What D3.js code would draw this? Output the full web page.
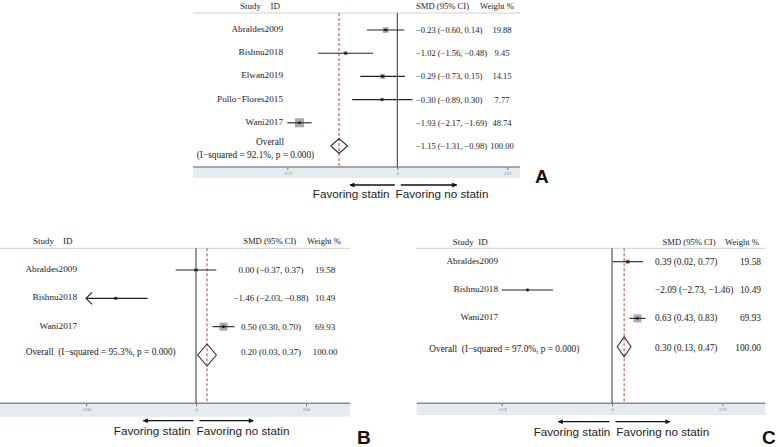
<!DOCTYPE html>
<html><head><meta charset="utf-8">
<script src="https://cdn.jsdelivr.net/npm/d3@7"></script>
<style>body{margin:0;background:#fff}svg{display:block}</style>
</head><body>
<script>
// ---------- DATA ----------
// Panel A
const studiesA = ["Abraldes2009", "Bishnu2018", "Elwan2019", "Pollo\u2212Flores2015", "Wani2017"];
const smdA     = [-0.23, -1.02, -0.29, -0.30, -1.93];
const lowerA   = [-0.60, -1.56, -0.73, -0.89, -2.17];
const upperA   = [ 0.14, -0.48,  0.15,  0.30, -1.69];
const weightA  = [19.88, 9.45, 14.15, 7.77, 48.74];
const overallA = [-1.15, -1.31, -0.98];
const i2A = "92.1%";
const pA = "0.000";
const ticksA = [-2.17, 0, 2.17];

// Panel B
const studiesB = ["Abraldes2009", "Bishnu2018", "Wani2017"];
const smdB     = [0.00, -1.46, 0.50];
const lowerB   = [-0.37, -2.03, 0.30];
const upperB   = [0.37, -0.88, 0.70];
const weightB  = [19.58, 10.49, 69.93];
const overallB = [0.20, 0.03, 0.37];
const i2B = "95.3%";
const pB = "0.000";
const ticksB = [-2.00, 0, 2.00];

// Panel C
const studiesC = ["Abraldes2009", "Bishnu2018", "Wani2017"];
const smdC     = [0.39, -2.09, 0.63];
const lowerC   = [0.02, -2.73, 0.43];
const upperC   = [0.77, -1.46, 0.83];
const weightC  = [19.58, 10.49, 69.93];
const overallC = [0.30, 0.13, 0.47];
const i2C = "97.0%";
const pC = "0.000";
const ticksC = [-2.73, 0, 2.73];

const leftLabel = "Favoring statin";
const rightLabel = "Favoring no statin";

// ---------- DRAWING ----------
const svg = d3.select("body").append("svg").attr("width", 778).attr("height", 447);
const defs = svg.append("defs");
defs.append("marker").attr("id", "ah").attr("viewBox", "0 0 10 10").attr("refX", 9).attr("refY", 5)
  .attr("markerWidth", 7).attr("markerHeight", 5).attr("markerUnits", "userSpaceOnUse").attr("orient", "auto")
  .append("path").attr("d", "M0,0L10,5L0,10Z").attr("fill", "#111");

const SERIF = "'Liberation Serif','Times New Roman',serif";
const SANS = "'Liberation Sans',Arial,sans-serif";
const fmt = v => (v < 0 ? "\u2212" : "") + Math.abs(v).toFixed(2);
const effText = (m, l, u) => `${fmt(m)} (${fmt(l)}, ${fmt(u)})`;

function drawPanel(d, L) {
  const g = svg.append("g");
  const x = d3.scaleLinear().domain(L.domain).range(L.xRange);
  const keys = d.studies.concat(["__overall"]);
  const y = d3.scalePoint().domain(keys).range(L.yRange);
  const box = d3.scaleSqrt().domain([0, d3.max(d.weights)]).range([0, L.maxBox]);
  const yo = y("__overall");
  const rows = d.studies.map((s, i) => ({s, m: d.smd[i], l: d.lower[i], u: d.upper[i], w: d.weights[i]}));

  // axis band
  g.append("rect").attr("x", L.frame[0]).attr("y", L.axisY).attr("width", L.frame[1] - L.frame[0])
    .attr("height", L.bandH).attr("fill", "#e4ecef");
  // header line
  g.append("line").attr("x1", L.frame[0]).attr("x2", L.frame[1]).attr("y1", L.headerY).attr("y2", L.headerY)
    .attr("stroke", "#d0d0d0").attr("stroke-width", 1);
  // axis
  const ax = g.append("g").attr("transform", `translate(0,${L.axisY})`)
    .call(d3.axisBottom(x).tickValues(d.ticks).tickSize(3).tickPadding(2.5)
      .tickFormat(t => t === 0 ? "0" : fmt(t)));
  ax.select(".domain").remove();
  ax.selectAll(".tick line").attr("stroke", "#555").attr("stroke-width", 0.8);
  ax.selectAll(".tick text").attr("font-size", 3.6).attr("fill", "#777").attr("font-family", SANS);
  g.append("line").attr("x1", L.frame[0]).attr("x2", L.frame[1]).attr("y1", L.axisY).attr("y2", L.axisY)
    .attr("stroke", "#8c8c8c").attr("stroke-width", 1.6);
  // zero line
  g.append("line").attr("x1", x(0)).attr("x2", x(0)).attr("y1", L.headerY).attr("y2", L.axisY)
    .attr("stroke", "#333").attr("stroke-width", 1);
  // overall dashed line
  g.append("line").attr("x1", x(d.overall[0])).attr("x2", x(d.overall[0])).attr("y1", L.headerY).attr("y2", L.axisY)
    .attr("stroke", "#b8463f").attr("stroke-width", 1).attr("stroke-dasharray", "3,2");

  // boxes
  g.selectAll("rect.box").data(rows).join("rect").attr("class", "box")
    .attr("x", r => x(r.m) - box(r.w) / 2).attr("y", r => y(r.s) - box(r.w) / 2)
    .attr("width", r => box(r.w)).attr("height", r => box(r.w)).attr("fill", "#a8a8a8");
  // CI lines
  g.selectAll("line.ci").data(rows).join("line").attr("class", "ci")
    .attr("x1", r => x(Math.max(r.l, L.domain[0]))).attr("x2", r => x(Math.min(r.u, L.domain[1])))
    .attr("y1", r => y(r.s)).attr("y2", r => y(r.s)).attr("stroke", "#222").attr("stroke-width", 1.1);
  // clipped CI chevrons
  rows.filter(r => r.l < L.domain[0]).forEach(r => {
    const x0 = x(L.domain[0]), yy = y(r.s);
    g.append("path").attr("d", `M${x0 + 6},${yy - 6}L${x0},${yy}L${x0 + 6},${yy + 6}`)
      .attr("fill", "none").attr("stroke", "#222").attr("stroke-width", 1.1);
  });
  // center dots
  g.selectAll("circle.pt").data(rows).join("circle").attr("class", "pt")
    .attr("cx", r => x(r.m)).attr("cy", r => y(r.s)).attr("r", 1.3).attr("fill", "#111");
  // diamond
  const h = L.diamondH / 2;
  g.append("path")
    .attr("d", `M${x(d.overall[1])},${yo}L${x(d.overall[0])},${yo - h}L${x(d.overall[2])},${yo}L${x(d.overall[0])},${yo + h}Z`)
    .attr("fill", "none").attr("stroke", "#2b2b55").attr("stroke-width", 1.1);

  const txt = (sel) => sel.attr("font-family", SERIF).attr("fill", "#222").attr("dominant-baseline", "central");
  // headers
  txt(g.append("text")).attr("x", L.studyX).attr("y", L.headerTextY).attr("font-size", 9).text("Study");
  txt(g.append("text")).attr("x", L.idX).attr("y", L.headerTextY).attr("font-size", 9).text("ID");
  txt(g.append("text")).attr("x", L.smdHX).attr("y", L.headerTextY).attr("font-size", 8.6)
    .attr("text-anchor", L.smdHAnchor).text("SMD (95% CI)");
  txt(g.append("text")).attr("x", L.wHX).attr("y", L.headerTextY).attr("font-size", 8.6)
    .attr("text-anchor", L.wHAnchor).text("Weight %");

  // study labels
  txt(g.selectAll("text.lab").data(rows).join("text").attr("class", "lab"))
    .attr("x", L.labelX).attr("y", r => y(r.s) - 1).attr("font-size", 9.2).attr("text-anchor", "end").text(r => r.s);
  // overall label
  if (L.overallSplit) {
    txt(g.append("text")).attr("x", L.labelX + 1).attr("y", yo - 4.5).attr("font-size", 9.3).attr("text-anchor", "end").text("Overall");
    txt(g.append("text")).attr("x", L.ovX).attr("y", yo + 9).attr("font-size", 9.3).attr("text-anchor", "middle")
      .text(`(I\u2212squared = ${d.i2}, p = ${d.p})`);
  } else {
    txt(g.append("text")).attr("x", L.ovX).attr("y", yo + L.ovDy).attr("font-size", 9.3).attr("text-anchor", "start")
      .attr("xml:space", "preserve").text(`Overall  (I\u2212squared = ${d.i2}, p = ${d.p})`);
  }
  // effect column
  const eff = rows.map(r => ({y: y(r.s), t: effText(r.m, r.l, r.u), w: r.w.toFixed(2)}))
    .concat([{y: yo + L.ovEffDy, t: effText(d.overall[0], d.overall[1], d.overall[2]), w: (100).toFixed(2)}]);
  txt(g.selectAll("text.eff").data(eff).join("text").attr("class", "eff"))
    .attr("x", L.effX).attr("y", e => e.y).attr("font-size", L.effFont).attr("text-anchor", L.effAnchor).text(e => e.t);
  txt(g.selectAll("text.wt").data(eff).join("text").attr("class", "wt"))
    .attr("x", L.wX).attr("y", e => e.y).attr("font-size", L.effFont).attr("text-anchor", L.wAnchor).text(e => e.w);

  // favoring arrows
  const gap = L.favGap;
  g.append("line").attr("x1", x(0) - 2.5).attr("x2", L.arrowL).attr("y1", L.arrowY).attr("y2", L.arrowY)
    .attr("stroke", "#111").attr("stroke-width", 1.3).attr("marker-end", "url(#ah)");
  g.append("line").attr("x1", x(0) + 3.5).attr("x2", L.arrowR).attr("y1", L.arrowY).attr("y2", L.arrowY)
    .attr("stroke", "#111").attr("stroke-width", 1.3).attr("marker-end", "url(#ah)");
  g.append("text").attr("x", gap - 3).attr("y", L.favY).attr("text-anchor", "end").attr("dominant-baseline", "central")
    .attr("font-family", SANS).attr("font-size", 11.7).attr("fill", "#222").text(leftLabel);
  g.append("text").attr("x", gap + 3).attr("y", L.favY).attr("text-anchor", "start").attr("dominant-baseline", "central")
    .attr("font-family", SANS).attr("font-size", 11.7).attr("fill", "#222").text(rightLabel);
  // panel letter
  g.append("text").attr("x", L.letterX).attr("y", L.letterY).attr("font-family", SANS).attr("font-weight", "bold")
    .attr("font-size", 19).attr("fill", "#111").attr("dominant-baseline", "central").text(L.letter);
}

drawPanel(
  {studies: studiesA, smd: smdA, lower: lowerA, upper: upperA, weights: weightA, overall: overallA, i2: i2A, p: pA, ticks: ticksA},
  {domain: [-2.17, 2.17], xRange: [287.3, 507.3], yRange: [30, 146], frame: [193, 520], headerY: 13, axisY: 167, bandH: 11,
   maxBox: 9, diamondH: 15, labelX: 283, overallSplit: true, ovX: 255.5, studyX: 240, idX: 270.5, headerTextY: 5.5,
   smdHX: 416, smdHAnchor: "start", wHX: 480, wHAnchor: "start", effX: 416, effAnchor: "start", effFont: 8.5,
   wX: 502, wAnchor: "middle", ovEffDy: 0, arrowY: 185, arrowL: 350, arrowR: 456.7, favY: 193, favGap: 392.5,
   letter: "A", letterX: 535, letterY: 176});

drawPanel(
  {studies: studiesB, smd: smdB, lower: lowerB, upper: upperB, weights: weightB, overall: overallB, i2: i2B, p: pB, ticks: ticksB},
  {domain: [-2.00, 2.00], xRange: [86, 306], yRange: [270, 355], frame: [0, 350], headerY: 248.3, axisY: 403.3, bandH: 13.4,
   maxBox: 8, diamondH: 22, labelX: 77, overallSplit: false, ovX: 25.7, ovDy: -3, studyX: 33, idX: 63, headerTextY: 240.7,
   smdHX: 269.7, smdHAnchor: "middle", wHX: 324, wHAnchor: "middle", effX: 271, effAnchor: "middle", effFont: 9,
   wX: 325, wAnchor: "middle", ovEffDy: -3, arrowY: 420.7, arrowL: 143.3, arrowR: 253.3, favY: 430, favGap: 193.5,
   letter: "B", letterX: 357, letterY: 437});

drawPanel(
  {studies: studiesC, smd: smdC, lower: lowerC, upper: upperC, weights: weightC, overall: overallC, i2: i2C, p: pC, ticks: ticksC},
  {domain: [-2.73, 2.73], xRange: [501.7, 722.3], yRange: [261.7, 346.7], frame: [416.7, 765.5], headerY: 248.3, axisY: 403.3, bandH: 11.7,
   maxBox: 8, diamondH: 20, labelX: 498, overallSplit: false, ovX: 429.3, ovDy: 2.5, studyX: 452.7, idX: 478.3, headerTextY: 242,
   smdHX: 689, smdHAnchor: "middle", wHX: 759, wHAnchor: "end", effX: 655, effAnchor: "start", effFont: 9.4,
   wX: 761, wAnchor: "end", ovEffDy: 1, arrowY: 421.7, arrowL: 558.3, arrowR: 670, favY: 431.7, favGap: 613.3,
   letter: "C", letterX: 762, letterY: 437});
</script>
</body></html>
